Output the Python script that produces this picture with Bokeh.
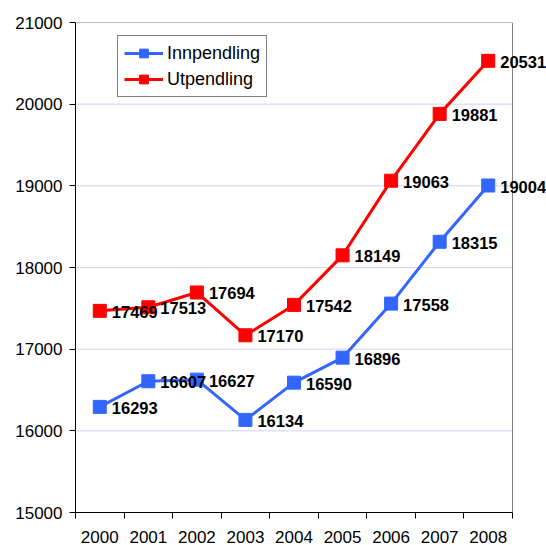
from bokeh.plotting import figure
from bokeh.models import FixedTicker, NumeralTickFormatter, Legend, LegendItem, ColumnDataSource, Range1d
from bokeh.core.properties import value
from bokeh.embed import file_html
from bokeh.resources import INLINE

years = [2000, 2001, 2002, 2003, 2004, 2005, 2006, 2007, 2008]
innpendling = [16293, 16607, 16627, 16134, 16590, 16896, 17558, 18315, 19004]
utpendling = [17469, 17513, 17694, 17170, 17542, 18149, 19063, 19881, 20531]
y_ticks = [15000, 16000, 17000, 18000, 19000, 20000, 21000]
series_names = ["Innpendling", "Utpendling"]
colors = ["#3366FF", "#FF0000"]

FONT = "Liberation Sans"

W, H = 546, 545
LEFT, TOP, BOTTOM = 75, 22, 32
PLOT_RIGHT = 512  # visible plot area right edge (px)
x0, x1 = years[0] - 0.5, years[-1] + 0.5
px_per_unit = (PLOT_RIGHT - LEFT) / (x1 - x0)
x_end = x1 + (W - PLOT_RIGHT) / px_per_unit  # extra room so labels are not clipped

p = figure(width=W, height=H, output_backend="svg", toolbar_location=None,
           x_range=Range1d(x0, x_end),
           y_range=Range1d(y_ticks[0], y_ticks[-1]),
           min_border_left=LEFT, min_border_right=0, min_border_top=TOP, min_border_bottom=BOTTOM)

p.outline_line_color = None
p.background_fill_color = "white"
p.border_fill_color = "white"
p.xgrid.visible = False
p.ygrid.visible = False

# gridlines limited to the plot area
p.segment(x0=[x0] * (len(y_ticks) - 2), x1=[x1] * (len(y_ticks) - 2),
          y0=y_ticks[1:-1], y1=y_ticks[1:-1], line_color="#d0d0f8", line_width=1)
# gray plot-area border (top and right)
p.segment(x0=[x0, x1], x1=[x1, x1], y0=[y_ticks[-1], y_ticks[0]], y1=[y_ticks[-1], y_ticks[-1]],
          line_color="#808080", line_width=1)

# axes
p.xaxis.bounds = (x0, x1)
p.xaxis.ticker = FixedTicker(ticks=years, minor_ticks=[y - 0.5 for y in years] + [x1])
p.xaxis.formatter = NumeralTickFormatter(format="0")
p.xaxis.major_tick_out = 0
p.xaxis.major_tick_in = 0
p.xaxis.minor_tick_out = 6
p.xaxis.minor_tick_in = 0
p.xaxis.minor_tick_line_color = "black"
p.xaxis.axis_line_color = "black"
p.xaxis.major_label_standoff = 12
p.xaxis.major_label_text_font = FONT
p.xaxis.major_label_text_font_size = "17px"
p.xaxis.major_label_text_color = "black"

p.yaxis.ticker = FixedTicker(ticks=y_ticks, minor_ticks=[])
p.yaxis.formatter = NumeralTickFormatter(format="0")
p.yaxis.major_tick_out = 6
p.yaxis.major_tick_in = 0
p.yaxis.major_tick_line_color = "black"
p.yaxis.axis_line_color = "black"
p.yaxis.major_label_standoff = 7
p.yaxis.major_label_text_font = FONT
p.yaxis.major_label_text_font_size = "17px"
p.yaxis.major_label_text_color = "black"

items = []
sources = []
for name, vals, c in zip(series_names, [innpendling, utpendling], colors):
    src = ColumnDataSource(dict(x=years, y=vals, t=[str(v) for v in vals]))
    sources.append(src)
    l = p.line("x", "y", source=src, line_color=c, line_width=3)
    m = p.scatter("x", "y", source=src, marker="square", size=13, fill_color=c, line_color=c)
    items.append(LegendItem(label=name, renderers=[l, m]))

for src in sources:
    p.text("x", "y", text="t", source=src, x_offset=12, y_offset=1,
           text_font=value(FONT), text_font_size="16.5px", text_font_style="bold",
           text_baseline="middle", text_align="left", text_color="black")

legend = Legend(items=items, location=(42, 415))
legend.label_text_font = FONT
legend.label_text_font_size = "18px"
legend.label_text_color = "black"
legend.glyph_width = 39
legend.glyph_height = 22
legend.label_height = 22
legend.spacing = 4
legend.padding = 6
legend.margin = 0
legend.label_standoff = 4
legend.border_line_color = "black"
legend.border_line_width = 1
legend.background_fill_color = "white"
legend.background_fill_alpha = 1
p.add_layout(legend)

open("out.html", "w").write(file_html(p, INLINE))
